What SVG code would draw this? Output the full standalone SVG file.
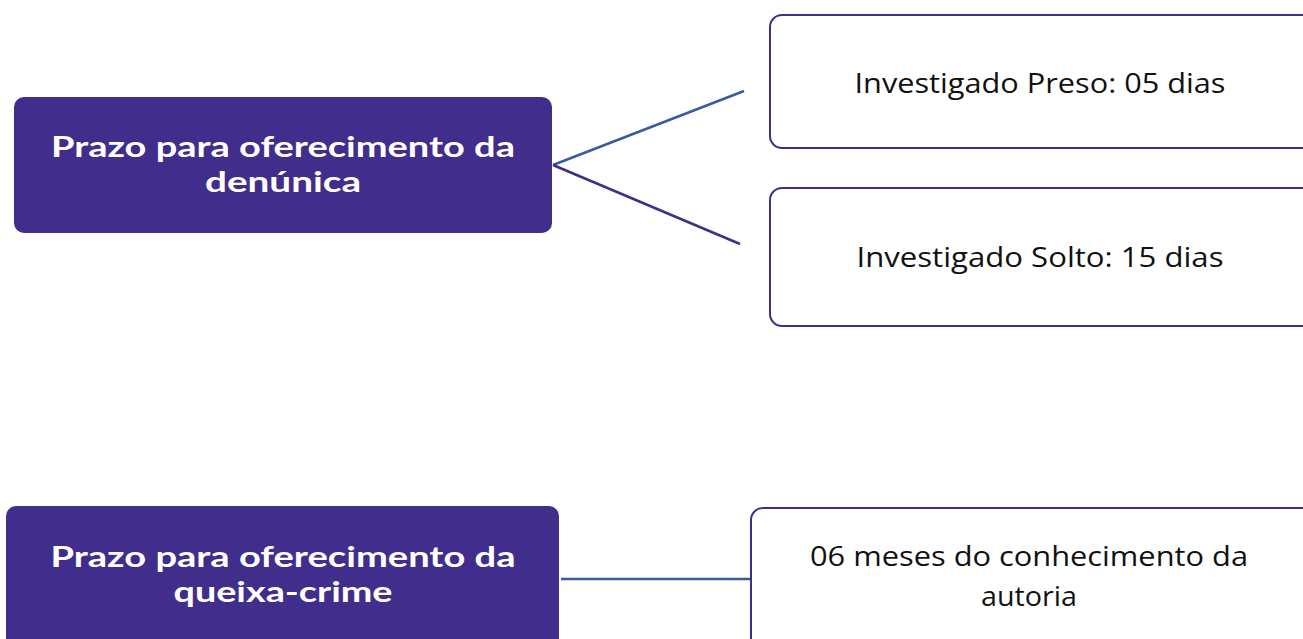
<svg xmlns="http://www.w3.org/2000/svg" width="1303" height="639" viewBox="0 0 1303 639">
<style>
.main{fill:#412D8C}
.box{fill:#fff;stroke:#412D8C;stroke-width:2}
.mt{font-family:Lato,"Liberation Sans",sans-serif;font-weight:700;font-size:29px;fill:#fff;text-anchor:middle}
.bt{font-family:"Open Sans","Liberation Sans",sans-serif;font-size:27px;fill:#111;text-anchor:middle}
.c1{stroke:#3A5BA0;stroke-width:2.5;fill:none}
.c2{stroke:#412D8C;stroke-width:2.5;fill:none}
</style>
<rect width="1303" height="639" fill="#fff"/>
<g id="connectors">
<line class="c1" x1="553" y1="165" x2="744" y2="91"/>
<line class="c2" x1="553" y1="165" x2="740" y2="244"/>
<line class="c1" x1="561" y1="579" x2="751" y2="579"/>
</g>
<g id="n1">
<rect class="main" x="14" y="97" width="538" height="136" rx="10"/>
<text class="mt" x="283" y="157" textLength="464" lengthAdjust="spacingAndGlyphs">Prazo para oferecimento da</text>
<text class="mt" x="283" y="192" textLength="156" lengthAdjust="spacingAndGlyphs">denúnica</text>
</g>
<g id="n2">
<rect class="box" x="770" y="15" width="545" height="133" rx="12"/>
<text class="bt" x="1040" y="93" textLength="371" lengthAdjust="spacingAndGlyphs">Investigado Preso: 05 dias</text>
</g>
<g id="n3">
<rect class="box" x="770" y="188" width="545" height="138" rx="12"/>
<text class="bt" x="1040" y="267" textLength="367" lengthAdjust="spacingAndGlyphs">Investigado Solto: 15 dias</text>
</g>
<g id="n4">
<rect class="main" x="6" y="506" width="553" height="150" rx="10"/>
<text class="mt" x="283" y="567" textLength="465" lengthAdjust="spacingAndGlyphs">Prazo para oferecimento da</text>
<text class="mt" x="283" y="602" textLength="219" lengthAdjust="spacingAndGlyphs">queixa-crime</text>
</g>
<g id="n5">
<rect class="box" x="751" y="508" width="565" height="150" rx="12"/>
<text class="bt" x="1029" y="566" textLength="438" lengthAdjust="spacingAndGlyphs">06 meses do conhecimento da</text>
<text class="bt" x="1029" y="606" textLength="96" lengthAdjust="spacingAndGlyphs">autoria</text>
</g>
</svg>
